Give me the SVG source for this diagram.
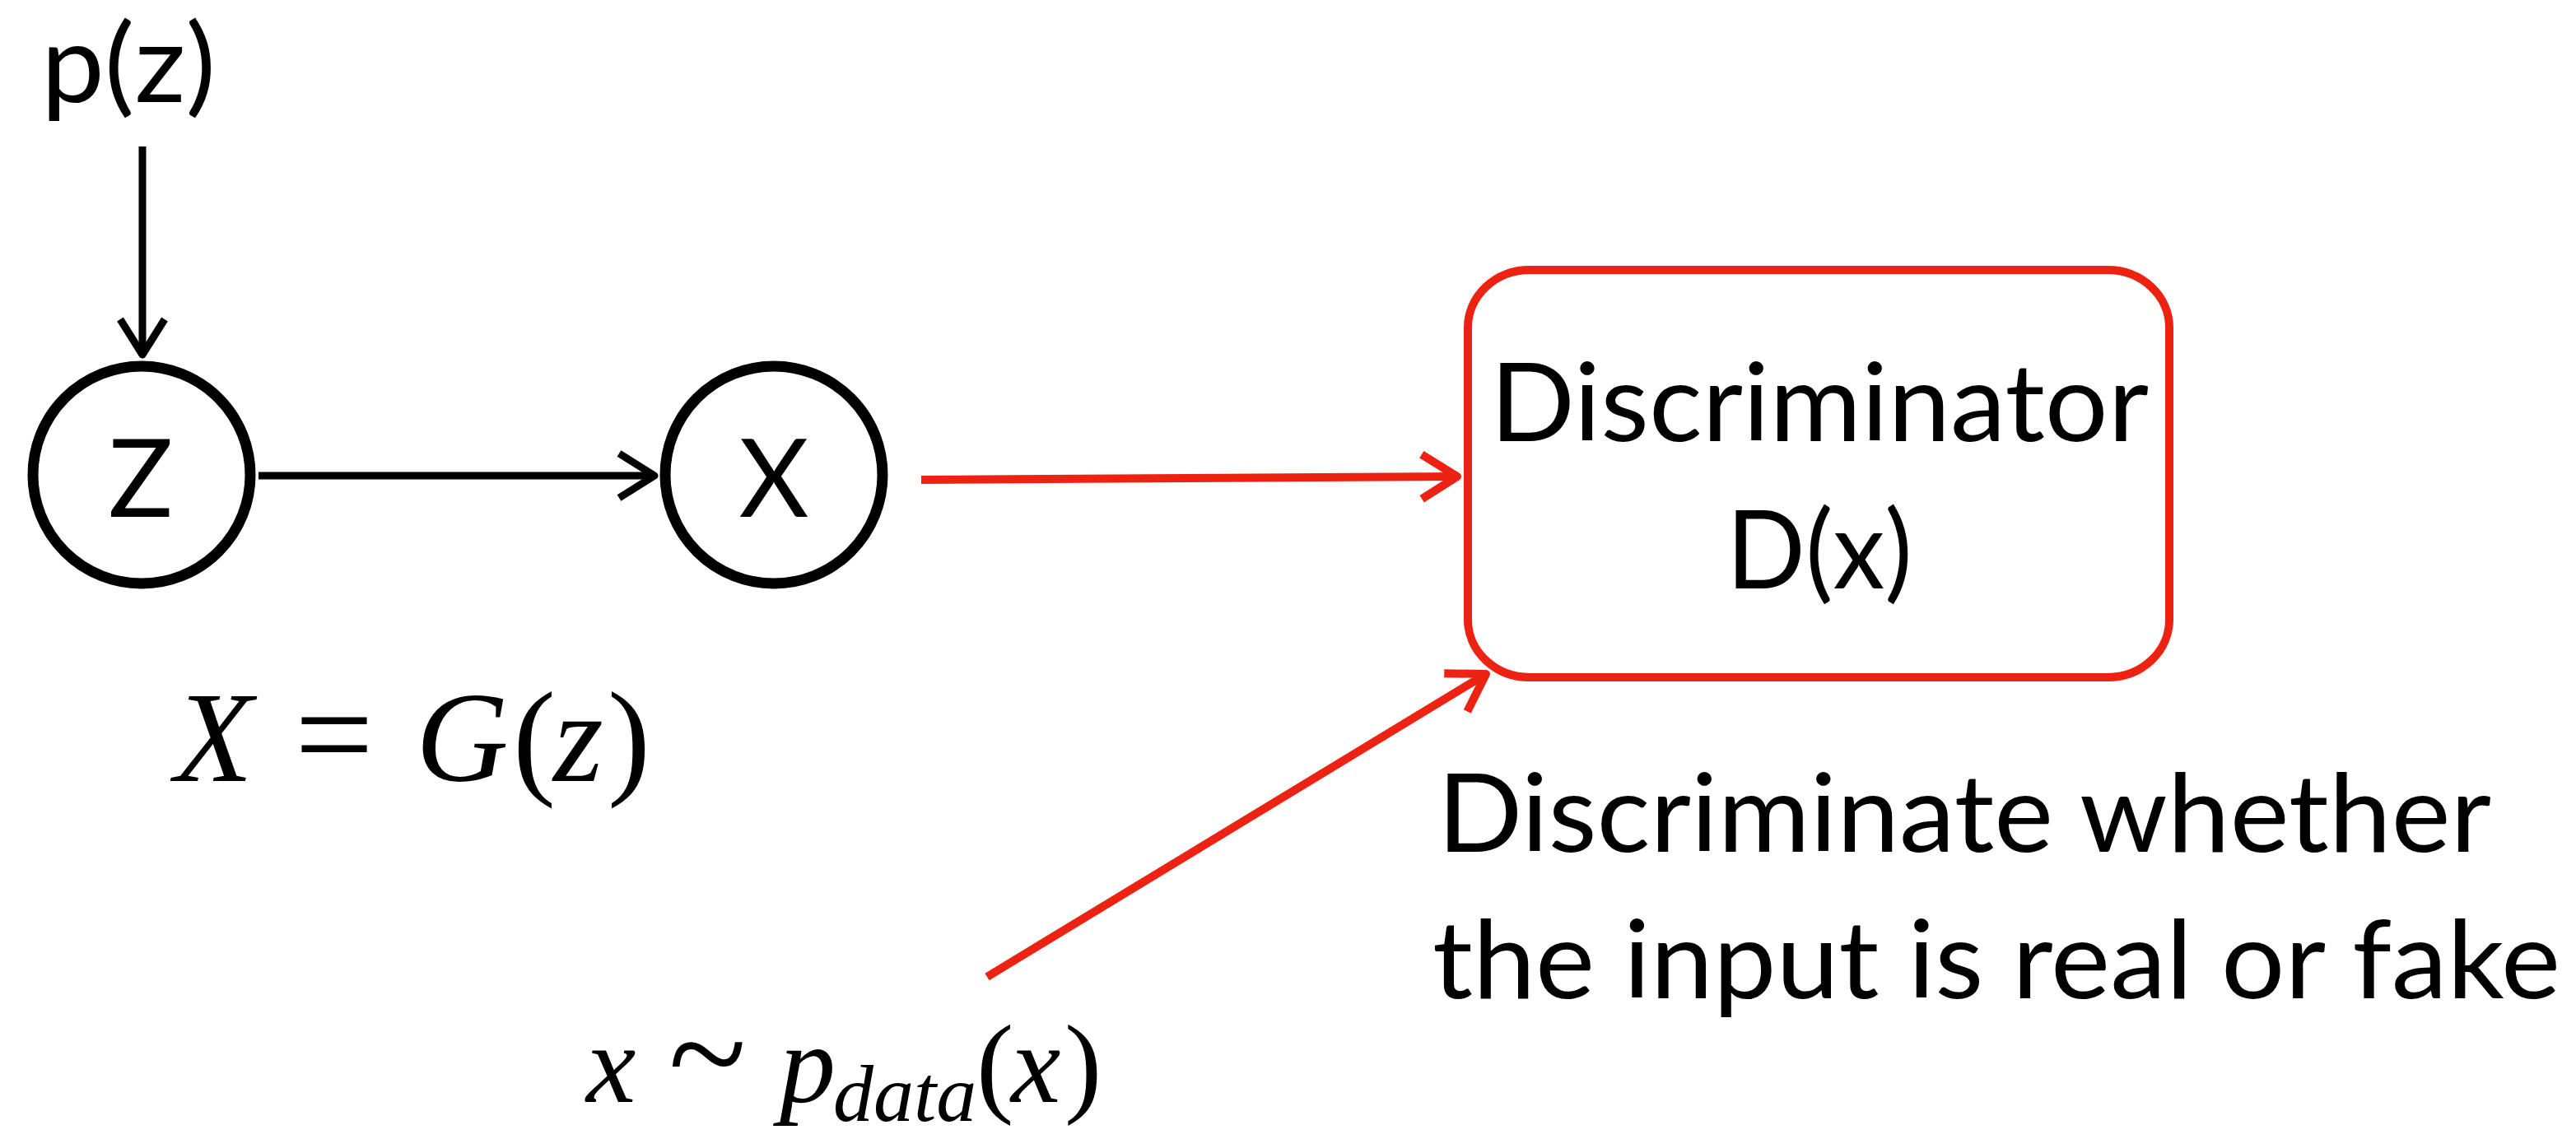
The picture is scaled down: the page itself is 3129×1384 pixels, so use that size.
<svg xmlns="http://www.w3.org/2000/svg" width="3129" height="1384" viewBox="0 0 3129 1384">
<style>
.lbl{font-family:Lato,"Open Sans","Liberation Sans",sans-serif;font-size:131px;fill:#000}
.math{font-family:"Liberation Serif","Times New Roman",serif;fill:#000}
.it{font-style:italic}
.node{fill:#fff;stroke:#000;stroke-width:13}
.box{fill:#fff;stroke:#EC2312;stroke-width:10}
.blk{stroke:#000;stroke-width:9;fill:none}
.red{stroke:#EC2312;stroke-width:10;fill:none}
</style>
<defs>
<marker id="ab" markerUnits="userSpaceOnUse" viewBox="-60 -40 70 80" markerWidth="70" markerHeight="80" refX="0" refY="0" orient="auto" overflow="visible">
<path d="M-43,-27 L0,0 L-43,27" fill="none" stroke="#000" stroke-width="9" stroke-linejoin="round"/>
</marker>
<marker id="ar" markerUnits="userSpaceOnUse" viewBox="-60 -40 70 80" markerWidth="70" markerHeight="80" refX="0" refY="0" orient="auto" overflow="visible">
<path d="M-43,-27 L0,0 L-43,27" fill="none" stroke="#EC2312" stroke-width="10" stroke-linejoin="round"/>
</marker>
</defs>
<rect width="3129" height="1384" fill="#fff"/>
<g id="connectors">
<line class="blk" x1="173" y1="178" x2="173" y2="431" marker-end="url(#ab)"/>
<line class="blk" x1="314" y1="578" x2="795" y2="578" marker-end="url(#ab)"/>
<line class="red" x1="1119" y1="583" x2="1770" y2="579" marker-end="url(#ar)"/>
<line class="red" x1="1199" y1="1187" x2="1805" y2="819" marker-end="url(#ar)"/>
</g>
<g id="pz">
<text class="lbl" x="50" y="124" textLength="212" lengthAdjust="spacingAndGlyphs">p(z)</text>
</g>
<g id="node-z">
<circle class="node" cx="172" cy="577" r="132"/>
<text class="lbl" x="171" y="628" text-anchor="middle">Z</text>
</g>
<g id="node-x">
<circle class="node" cx="940" cy="577" r="132"/>
<text class="lbl" x="940" y="628" text-anchor="middle">X</text>
</g>
<g id="discriminator">
<rect class="box" x="1783" y="328" width="852" height="495" rx="75" ry="70"/>
<text class="lbl" x="2210" y="536" text-anchor="middle" textLength="800" lengthAdjust="spacingAndGlyphs">Discriminator</text>
<text class="lbl" x="2210" y="715" text-anchor="middle" textLength="226" lengthAdjust="spacingAndGlyphs">D(x)</text>
</g>
<g id="caption">
<text class="lbl" x="1746" y="1035" textLength="1280" lengthAdjust="spacingAndGlyphs">Discriminate whether</text>
<text class="lbl" x="1740" y="1213" textLength="1370" lengthAdjust="spacingAndGlyphs">the input is real or fake</text>
</g>
<g id="eq-g">
<text class="math" y="949" font-size="156"><tspan class="it" x="212">X</tspan><tspan x="358" font-size="170">=</tspan><tspan class="it" x="505">G</tspan><tspan x="623">(</tspan><tspan class="it" x="672">z</tspan><tspan x="738">)</tspan></text>
</g>
<g id="eq-data">
<text class="math" y="1339" font-size="136"><tspan class="it" x="712">x</tspan><tspan x="812" font-size="175">~</tspan><tspan class="it" x="947">p</tspan><tspan class="it" x="1012" y="1362" font-size="98">data</tspan><tspan x="1186" y="1339">(</tspan><tspan class="it" x="1228">x</tspan><tspan x="1293">)</tspan></text>
</g>
</svg>
